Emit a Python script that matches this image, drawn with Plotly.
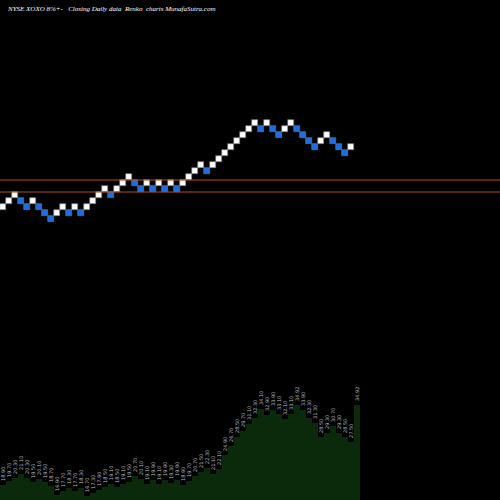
import plotly.graph_objects as go

levels = [0,1,2,1,0,1,0,-1,-2,-1,0,-1,0,-1,0,1,2,3,2,3,4,5,4,3,4,3,4,3,4,3,
          4,5,6,7,6,7,8,9,10,11,12,13,14,13,14,13,12,13,14,13,12,11,10,11,12,11,10,9,10]
brick_size = 1.12
brick_base = 18.08
line_levels = [23.68, 21.44]

closes = [18.90,19.70,20.30,21.10,20.30,19.50,20.10,19.50,18.70,16.90,
          17.70,18.30,17.70,18.30,16.70,17.30,17.90,18.50,19.10,18.50,
          19.10,19.50,20.70,20.10,19.10,19.90,19.10,19.90,19.30,19.90,
          18.90,19.70,20.70,21.50,22.30,21.10,22.10,24.90,26.70,28.50,
          29.70,31.10,32.30,34.10,32.90,33.90,33.10,32.10,33.10,34.92,
          33.90,32.30,31.30,28.50,29.30,30.70,29.30,28.50,27.50,34.92]

opens = [brick_base + brick_size * l for l in levels]
up = [i == 0 or levels[i] > levels[i-1] for i in range(len(levels))]
colors = ['#ffffff' if u else '#1a6fe8' for u in up]

fig = go.Figure()
fig.add_trace(go.Bar(x=list(range(len(closes))), y=closes, width=1.0,
                     marker=dict(color='#0b2a0b', line=dict(width=0)),
                     yaxis='y2', base=0))
fig.add_trace(go.Bar(x=list(range(len(levels))), y=[brick_size]*len(levels), base=opens,
                     width=0.92, marker=dict(color=colors, line=dict(color='#777777', width=0.6))))

for v in line_levels:
    fig.add_shape(type='line', xref='paper', x0=0, x1=1, yref='y', y0=v, y1=v,
                  line=dict(color='#b5540a', width=1))

for i, c in enumerate(closes):
    fig.add_annotation(x=i, y=c + 0.4, yref='y2', text=f"{c:.2f}", textangle=-90,
                       showarrow=False, yanchor='bottom', xanchor='center',
                       font=dict(size=5, color='#bbbbbb', family='DejaVu Sans'))

fig.add_annotation(x=0.01, y=0.995, xref='paper', yref='paper', xanchor='left', yanchor='top',
                   showarrow=False,
                   text="NYSE XOXO 8%+-   Closing Daily data  Renko  charts MunafaSutra.com",
                   font=dict(size=7, color='#ffffff', family='Liberation Serif', style='italic'))

fig.update_layout(width=500, height=500, margin=dict(l=0, r=0, t=0, b=0),
                  paper_bgcolor='#000000', plot_bgcolor='#000000', showlegend=False,
                  barmode='overlay', bargap=0,
                  xaxis=dict(range=[-0.5, 82.83], visible=False),
                  yaxis=dict(range=[-36.05, 57.28], visible=False),
                  yaxis2=dict(range=[15.9, 115.9], visible=False, overlaying='y'))
fig.write_html("out.html", config={'displayModeBar': False},
               post_script="document.body.style.margin='0';document.body.style.background='#000';")
